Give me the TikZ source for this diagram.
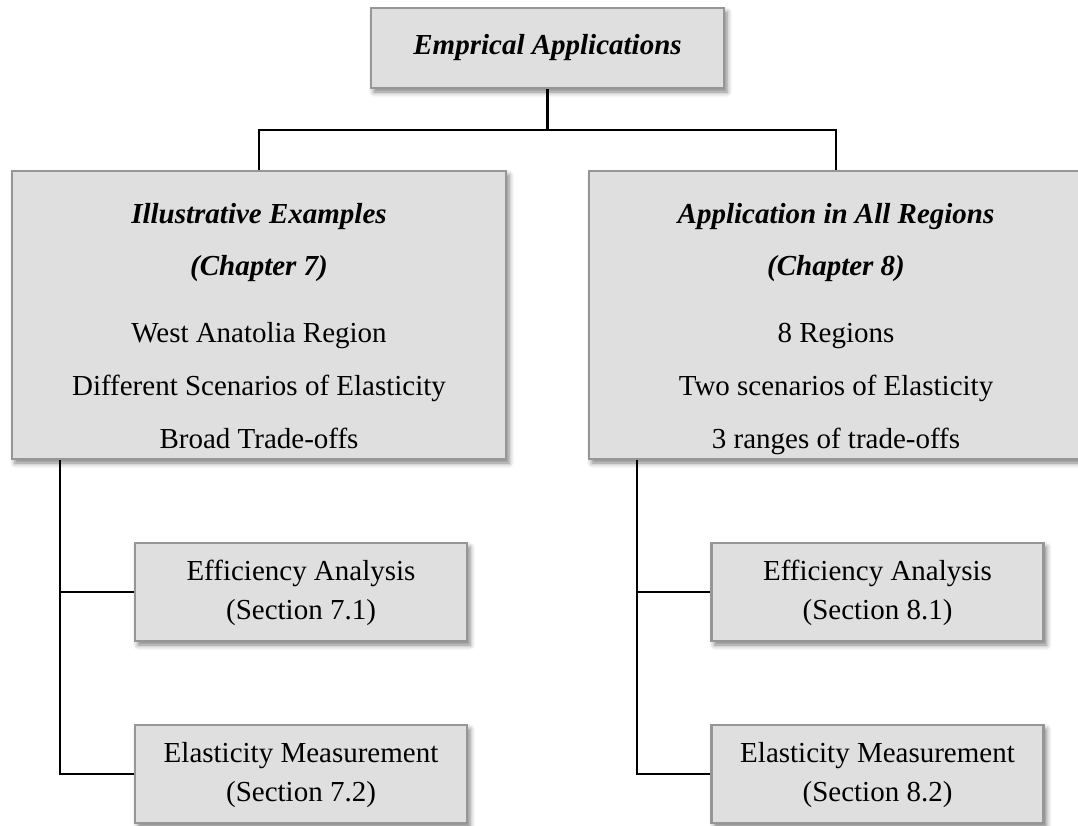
\documentclass[tikz,border=0pt]{standalone}
\usepackage{fontspec}
\setmainfont{Liberation Serif}
\usetikzlibrary{shadows.blur}

\definecolor{boxfill}{RGB}{223,223,223}
\definecolor{boxline}{RGB}{150,150,150}

\begin{document}
\begin{tikzpicture}[line width = 0.6pt,
                    box/.style = {rectangle, draw = boxline, fill = boxfill, inner sep = 0pt,
                                  blur shadow = {shadow xshift = 0.03cm, shadow yshift = -0.04cm,
                                                 shadow blur radius = 0.05cm, shadow opacity = 50}},
                    topbox/.style = {box, minimum width = 3.53cm, minimum height = 0.8cm},
                    bigbox/.style = {box, minimum width = 4.94cm, minimum height = 2.88cm},
                    subbox/.style = {box, minimum width = 3.32cm, minimum height = 0.98cm, align = center,
                                     font = \fontsize{8.25}{11}\selectfont},
                    bigtext/.style = {align = center, yshift = -0.1cm, font = \fontsize{8.25}{15}\selectfont}]

\useasboundingbox (0,0) rectangle (10.78,-8.25);

% top level
\node [topbox, font = \fontsize{8.25}{10}\selectfont] (T0) at (5.475,-0.48) {\textbf{\textit{Emprical Applications}}};

% chapters
\node [bigbox, label = {[bigtext]center:{\strut\textbf{\textit{Illustrative Examples}}\\
       \textbf{\textit{(Chapter 7)}}\\[4pt]
       West Anatolia Region\\
       Different Scenarios of Elasticity\\
       Broad Trade-offs\strut}}] (T1) at (2.59,-3.15) {};
\node [bigbox, label = {[bigtext]center:{\strut\textbf{\textit{Application in All Regions}}\\
       \textbf{\textit{(Chapter 8)}}\\[4pt]
       8 Regions\\
       Two scenarios of Elasticity\\
       3 ranges of trade-offs\strut}}] (T2) at (8.36,-3.15) {};

% sections
\node [subbox] (T11) at (3.01,-5.92) {\strut Efficiency Analysis\\(Section 7.1)\strut};
\node [subbox] (T12) at (3.01,-7.74) {\strut Elasticity Measurement\\(Section 7.2)\strut};
\node [subbox] (T21) at (8.775,-5.92) {\strut Efficiency Analysis\\(Section 8.1)\strut};
\node [subbox] (T22) at (8.775,-7.74) {\strut Elasticity Measurement\\(Section 8.2)\strut};

\draw (T0.south) -- ++(0,-0.41) coordinate (J);
\draw (T1.north) |- (J) -| (T2.north);

\coordinate (L) at ([xshift=0.49cm]T1.south west);
\coordinate (R) at ([xshift=0.49cm]T2.south west);
\draw (L) |- (T11.west);
\draw (L) |- (T12.west);
\draw (R) |- (T21.west);
\draw (R) |- (T22.west);
\end{tikzpicture}
\end{document}
